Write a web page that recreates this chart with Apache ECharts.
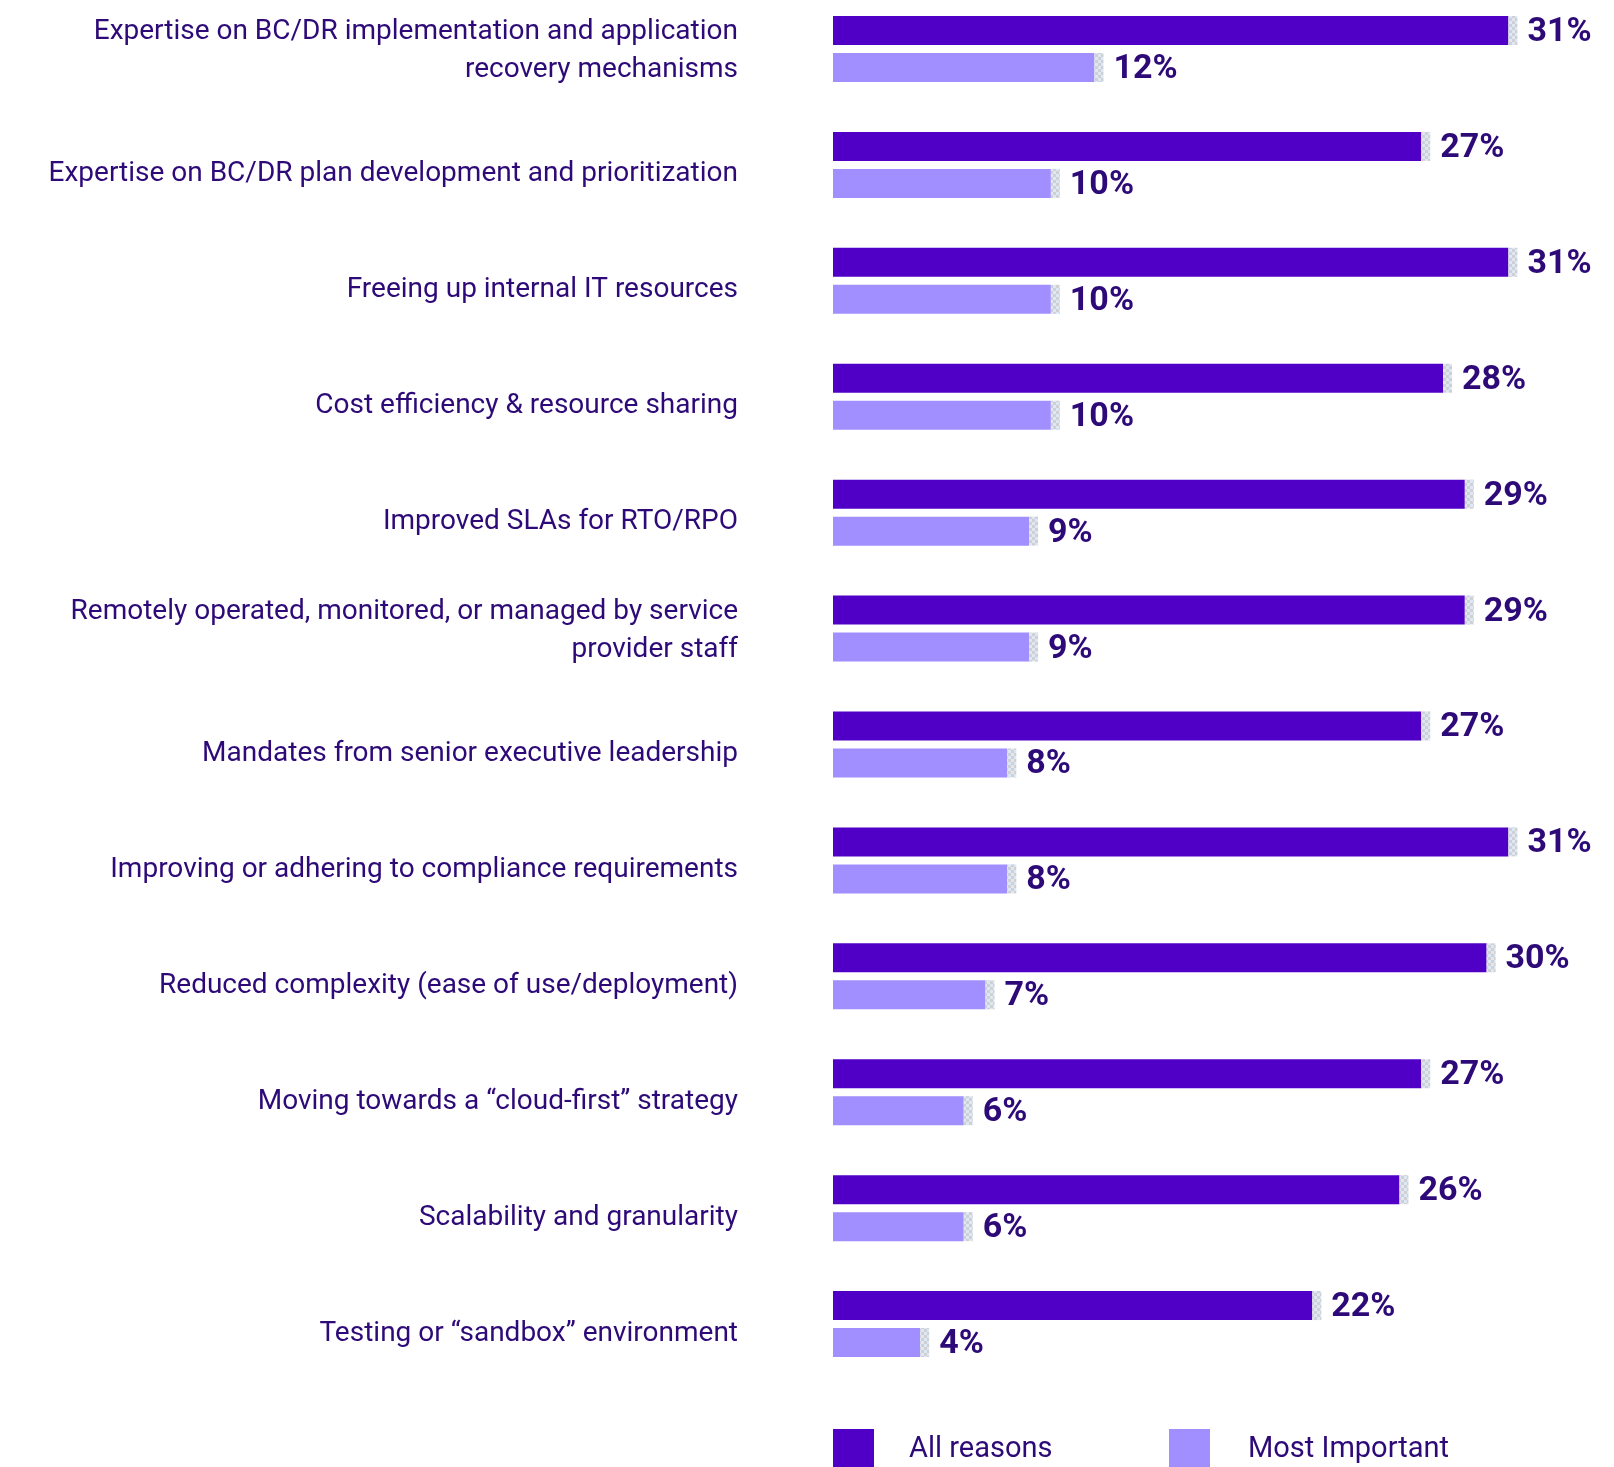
<!DOCTYPE html>
<html>
<head>
<meta charset="utf-8">
<script src="https://cdn.jsdelivr.net/npm/echarts@6/dist/echarts.min.js"></script>
<style>
  html, body { margin: 0; padding: 0; background: #ffffff; overflow: hidden; }
  /* the first band starts slightly above the page edge */
  #chart { width: 1614px; height: 1476px; margin-top: -9px; }
</style>
</head>
<body>
<div id="chart"></div>
<script>
// Reasons for choosing a service provider for BC/DR
const categories = [
  'Expertise on BC/DR implementation and application\nrecovery mechanisms',
  'Expertise on BC/DR plan development and prioritization',
  'Freeing up internal IT resources',
  'Cost efficiency & resource sharing',
  'Improved SLAs for RTO/RPO',
  'Remotely operated, monitored, or managed by service\nprovider staff',
  'Mandates from senior executive leadership',
  'Improving or adhering to compliance requirements',
  'Reduced complexity (ease of use/deployment)',
  'Moving towards a \u201ccloud-first\u201d strategy',
  'Scalability and granularity',
  'Testing or \u201csandbox\u201d environment'
];
const allReasons = [31, 27, 31, 28, 29, 29, 27, 31, 30, 27, 26, 22];
const mostImportant = [12, 10, 10, 10, 9, 9, 8, 8, 7, 6, 6, 4];
const seriesNames = ['All reasons', 'Most Important'];

const DARK = '#5000c6';
const LIGHT = '#a18eff';
const TEXT = '#2d0a78';
const FONT = 'Roboto, "Noto Sans", sans-serif';

const BAR_W = 29;
const BAR_GAP = 8;
const CAP_W = 9;

// small checker tile used for the bar end caps
function checkerTile() {
  const c = document.createElement('canvas');
  c.width = 6; c.height = 6;
  const g = c.getContext('2d');
  g.fillStyle = '#dce8f6'; g.fillRect(0, 0, 6, 6);
  g.fillStyle = '#d0d0d3'; g.fillRect(0, 0, 3, 3); g.fillRect(3, 3, 3, 3);
  return c;
}
const capFill = { image: checkerTile(), repeat: 'repeat' };

function capSeries(values, offset) {
  return {
    type: 'custom',
    name: 'cap',
    z: 3,
    silent: true,
    data: values.map((v, i) => [v, i]),
    encode: { x: 0, y: 1 },
    renderItem: function (params, api) {
      const p = api.coord([api.value(0), api.value(1)]);
      return {
        type: 'rect',
        shape: { x: p[0], y: p[1] + offset - BAR_W / 2, width: CAP_W, height: BAR_W },
        style: { fill: capFill }
      };
    }
  };
}

const valueLabel = {
  show: true,
  position: 'right',
  distance: CAP_W + 10,
  formatter: '{c}%',
  fontFamily: FONT,
  fontWeight: 'bold',
  fontSize: 34,
  color: TEXT,
  offset: [0, 2]
};

const half = (BAR_W + BAR_GAP) / 2;

// legend swatches run past the bottom edge of the page
const legendBase = {
  orient: 'horizontal',
  top: 1438,
  padding: 0,
  icon: 'rect',
  itemWidth: 41,
  itemHeight: 42,
  selectedMode: false
};
const legendText = (pad) => ({ fontFamily: FONT, fontSize: 29, color: TEXT, padding: [0, 0, 0, pad] });

const chart = echarts.init(document.getElementById('chart'), null, { renderer: 'canvas' });
chart.setOption({
  animation: false,
  backgroundColor: '#ffffff',
  grid: { left: 833, right: 25, top: 0, height: 1391, containLabel: false },
  xAxis: {
    type: 'value', min: 0, max: 34.7,
    show: false
  },
  yAxis: {
    type: 'category',
    inverse: true,
    data: categories,
    axisLine: { show: false },
    axisTick: { show: false },
    splitLine: { show: false },
    axisLabel: {
      margin: 95,
      fontFamily: FONT,
      fontSize: 28,
      lineHeight: 38,
      color: TEXT,
      align: 'right',
      padding: [5, 0, 0, 0],
      // single-line labels sit a little lower than two-line ones
      formatter: (v) => v.indexOf('\n') >= 0 ? v : '{one|' + v + '}',
      rich: {
        one: {
          fontFamily: FONT, fontSize: 28, lineHeight: 38, color: TEXT,
          padding: [14, 0, 0, 0]
        }
      }
    }
  },
  legend: [
    Object.assign({}, legendBase, { left: 833, data: [seriesNames[0]], textStyle: legendText(30) }),
    Object.assign({}, legendBase, { left: 1169, data: [seriesNames[1]], textStyle: legendText(33) })
  ],
  series: [
    {
      type: 'bar', name: seriesNames[0], data: allReasons,
      barWidth: BAR_W, barGap: (BAR_GAP / BAR_W * 100) + '%',
      itemStyle: { color: DARK },
      label: valueLabel
    },
    {
      type: 'bar', name: seriesNames[1], data: mostImportant,
      barWidth: BAR_W,
      itemStyle: { color: LIGHT },
      label: valueLabel
    },
    capSeries(allReasons, -half),
    capSeries(mostImportant, half)
  ]
});
</script>
</body>
</html>
